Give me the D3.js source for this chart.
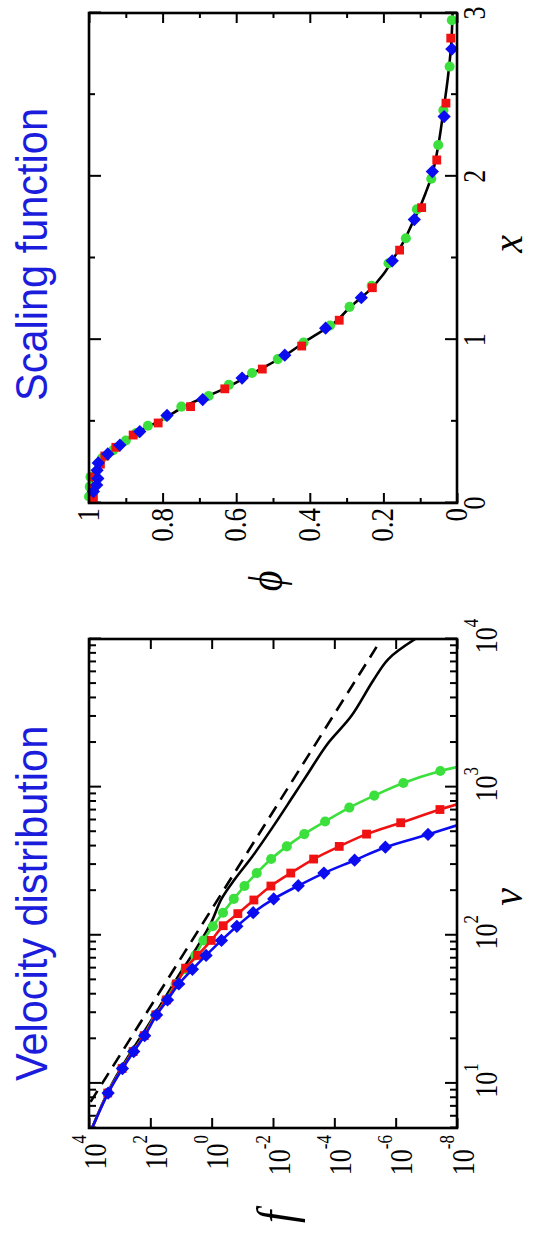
<!DOCTYPE html>
<html><head><meta charset="utf-8">
<script src="https://cdn.jsdelivr.net/npm/d3@7"></script>
<style>body{margin:0;background:#fff}svg{display:block}</style>
</head><body>
<svg id="chart" width="534" height="1245"></svg>
<script>
// ---------- data : velocity distribution (log-log) ----------
const velDomain = [5, 1e4];
const fDomain = [1e4, 1e-8];
const velMajorTicks = [10, 100, 1000, 10000];
const velTickExp = ["1", "2", "3", "4"];
const fTicks = [1e4, 1e2, 1e0, 1e-2, 1e-4, 1e-6, 1e-8];
const fTickExp = ["4", "2", "0", "-2", "-4", "-6", "-8"];

// first and last entries are line ends only (no marker)
const blueV = [5, 8.61, 12.6, 16.4, 21.0, 29.0, 36.6, 46.9, 58.9, 73.1, 92.3, 115, 142, 176, 216, 263, 321, 393, 479, 552];
const blueF = [7900, 2380, 811, 348, 153, 62.5, 27.5, 11.8, 4.24, 1.52, 0.48, 0.151, 0.0443, 0.0095, 1.5e-3, 2.19e-4, 2.18e-5, 2.17e-6, 8.8e-8, 1e-8];
const redV = [5, 8.61, 12.6, 16.4, 21.0, 29.0, 36.6, 46.9, 60.0, 73.1, 92.3, 116, 140, 173, 215, 263, 327, 398, 482, 575, 706, 766];
const redF = [7900, 2450, 832, 363, 158, 66, 29.5, 14.1, 7.08, 2.88, 1.03, 0.422, 0.140, 0.042, 0.0117, 2.64e-3, 4.73e-4, 6.92e-5, 8.9e-6, 6.85e-7, 3.6e-8, 1e-8];
const greenV = [5, 8.61, 12.6, 16.4, 21.0, 29.0, 36.6, 46.9, 58.9, 73.1, 92.3, 115, 142, 176, 215, 263, 327, 398, 482, 586, 728, 877, 1067, 1285, 1365];
const greenF = [8000, 2480, 850, 370, 163, 68, 31, 15, 7.1, 3.4, 1.86, 0.912, 0.427, 0.19, 0.0851, 0.0339, 0.0115, 3.55e-3, 9.55e-4, 2.0e-4, 3.24e-5, 5.0e-6, 5.6e-7, 3.5e-8, 1e-8];
const blackV = [5, 10, 27.7, 51.4, 84.1, 122, 176, 240, 339, 537, 871, 1202, 1950, 3020, 5250, 7350, 10000];
const blackF = [7900, 1740, 83, 13.5, 2.88, 1.035, 0.479, 0.174, 0.0479, 0.0102, 2.19e-3, 7.9e-4, 1.7e-4, 2.8e-5, 5.4e-6, 1.7e-6, 2.3e-7];
const dashV = [7.5, 8840];
const dashF = [8900, 4.2e-6];

// ---------- data : scaling function ----------
const xDomain = [0, 3];
const phiDomain = [1, 0];
const xMajorTicks = [0, 1, 2, 3];
const xMinorTicks = [0.5, 1.5, 2.5];
const phiMajorTicks = [0, 0.2, 0.4, 0.6, 0.8, 1];
const phiTickLabels = ["0", "0.2", "0.4", "0.6", "0.8", "1"];
const phiMinorTicks = [0.1, 0.3, 0.5, 0.7, 0.9];

const scalingX = [0, 0.1, 0.2, 0.25, 0.3, 0.35, 0.4, 0.45, 0.5, 0.6, 0.7, 0.8, 0.9, 1.0, 1.1, 1.2, 1.3, 1.4, 1.5, 1.6, 1.7, 1.8, 1.9, 2.0, 2.2, 2.4, 2.6, 2.8, 3.0];
const scalingPhi = [1, 0.995, 0.985, 0.975, 0.952, 0.925, 0.89, 0.855, 0.81, 0.733, 0.632, 0.55, 0.47, 0.405, 0.335, 0.29, 0.239, 0.2, 0.172, 0.145, 0.124, 0.103, 0.085, 0.069, 0.05, 0.037, 0.025, 0.016, 0.012];
const sBlueX = [0.07, 0.11, 0.15, 0.20, 0.245, 0.30, 0.355, 0.437, 0.536, 0.633, 0.765, 0.905, 1.070, 1.257, 1.483, 1.735, 2.029, 2.366, 2.779];
const sBluePhi = [0.988, 0.979, 0.976, 0.978, 0.975, 0.949, 0.916, 0.862, 0.788, 0.691, 0.584, 0.468, 0.357, 0.260, 0.176, 0.116, 0.067, 0.035, 0.014];
const sRedX = [0.029, 0.09, 0.16, 0.238, 0.288, 0.341, 0.416, 0.49, 0.59, 0.699, 0.82, 0.961, 1.119, 1.318, 1.548, 1.808, 2.10, 2.448, 2.846];
const sRedPhi = [0.988, 0.99, 0.985, 0.969, 0.957, 0.927, 0.880, 0.812, 0.724, 0.631, 0.529, 0.422, 0.320, 0.230, 0.156, 0.096, 0.055, 0.030, 0.017];
const sGreenX = [0.04, 0.10, 0.16, 0.274, 0.324, 0.383, 0.428, 0.473, 0.53, 0.59, 0.655, 0.723, 0.796, 0.881, 0.983, 1.087, 1.201, 1.33, 1.468, 1.621, 1.798, 1.985, 2.192, 2.405, 2.672, 2.956];
const sGreenPhi = [1.0, 0.998, 0.996, 0.965, 0.934, 0.900, 0.872, 0.840, 0.790, 0.749, 0.675, 0.620, 0.557, 0.487, 0.417, 0.345, 0.292, 0.232, 0.186, 0.139, 0.109, 0.070, 0.051, 0.037, 0.020, 0.014];

// ---------- styles ----------
const BLUE = "#0c0cf0", RED = "#f01212", GREEN = "#3ce03c", TITLE = "#1c1cdc";
const SERIF = "'Liberation Serif','Times New Roman',serif";
const SANS = "'Liberation Sans',Arial,sans-serif";
const S = 1.2; // vertical stretch of glyphs

const H = 1245;
const svg = d3.select("#chart");
// whole figure is drawn upright, then rotated a quarter turn counter-clockwise
const root = svg.append("g").attr("transform", `translate(0,${H}) rotate(-90)`);

const P1 = {x0: 117, x1: 606, y0: 89, y1: 457};
const P2 = {x0: 742, x1: 1232, y0: 89, y1: 457};

const vx = d3.scaleLog().domain(velDomain).range([P1.x0, P1.x1]);
const fy = d3.scaleLog().domain(fDomain).range([P1.y0, P1.y1]);
const sx = d3.scaleLinear().domain(xDomain).range([P2.x0, P2.x1]);
const sy = d3.scaleLinear().domain(phiDomain).range([P2.y0, P2.y1]);

function tickAxis(axis, tr) {
  const g = root.append("g").attr("transform", tr).call(axis.tickFormat(() => ""));
  g.select(".domain").remove();
  g.selectAll("line").attr("stroke", "#000").attr("stroke-width", 2);
}

// ---- panel 1 ticks ----
const velMinor = vx.ticks().filter(t => !velMajorTicks.includes(t) && t >= velDomain[0] && t <= velDomain[1]);
tickAxis(d3.axisBottom(vx).tickValues(velMajorTicks).tickSize(-12), `translate(0,${P1.y1})`);
tickAxis(d3.axisBottom(vx).tickValues(velMinor).tickSize(-7), `translate(0,${P1.y1})`);
tickAxis(d3.axisTop(vx).tickValues(velMajorTicks).tickSize(-12), `translate(0,${P1.y0})`);
tickAxis(d3.axisTop(vx).tickValues(velMinor).tickSize(-7), `translate(0,${P1.y0})`);
tickAxis(d3.axisLeft(fy).tickValues(fTicks).tickSize(-10), `translate(${P1.x0},0)`);
tickAxis(d3.axisRight(fy).tickValues(fTicks).tickSize(-10), `translate(${P1.x1},0)`);

// ---- panel 2 ticks ----
tickAxis(d3.axisBottom(sx).tickValues(xMajorTicks).tickSize(-12), `translate(0,${P2.y1})`);
tickAxis(d3.axisBottom(sx).tickValues(xMinorTicks).tickSize(-6), `translate(0,${P2.y1})`);
tickAxis(d3.axisTop(sx).tickValues(xMajorTicks).tickSize(-12), `translate(0,${P2.y0})`);
tickAxis(d3.axisTop(sx).tickValues(xMinorTicks).tickSize(-6), `translate(0,${P2.y0})`);
tickAxis(d3.axisLeft(sy).tickValues(phiMajorTicks).tickSize(-10), `translate(${P2.x0},0)`);
tickAxis(d3.axisLeft(sy).tickValues(phiMinorTicks).tickSize(-5), `translate(${P2.x0},0)`);
tickAxis(d3.axisRight(sy).tickValues(phiMajorTicks).tickSize(-10), `translate(${P2.x1},0)`);
tickAxis(d3.axisRight(sy).tickValues(phiMinorTicks).tickSize(-5), `translate(${P2.x1},0)`);

// ---- clip ----
const defs = svg.append("defs");
defs.append("clipPath").attr("id", "clip1").append("rect")
  .attr("x", P1.x0).attr("y", P1.y0).attr("width", P1.x1 - P1.x0).attr("height", P1.y1 - P1.y0);
defs.append("clipPath").attr("id", "clip2").append("rect")
  .attr("x", P2.x0 - 6).attr("y", P2.y0 - 6).attr("width", P2.x1 - P2.x0 + 12).attr("height", P2.y1 - P2.y0 + 12);

// ---- panel 1 curves ----
const g1 = root.append("g").attr("clip-path", "url(#clip1)");
const line1 = d3.line().x(d => vx(d[0])).y(d => fy(d[1])).curve(d3.curveCatmullRom);
const zip = (a, b) => a.map((v, i) => [v, b[i]]);

g1.append("path").datum(zip(dashV, dashF)).attr("d", line1)
  .attr("fill", "none").attr("stroke", "#000").attr("stroke-width", 2.6).attr("stroke-dasharray", "13,8");
g1.append("path").datum(zip(blackV, blackF)).attr("d", line1)
  .attr("fill", "none").attr("stroke", "#000").attr("stroke-width", 2.6);

const sym = {
  circle: d3.symbol().type(d3.symbolCircle).size(80),
  square: d3.symbol().type(d3.symbolSquare).size(78),
  diamond: d3.symbol().type(d3.symbolSquare).size(88)
};

function seriesLine(g, pts, color, line) {
  g.append("path").datum(pts).attr("d", line)
    .attr("fill", "none").attr("stroke", color).attr("stroke-width", 2.6);
}
function markers(g, pts, color, shape, xs, ys) {
  g.append("g").selectAll("path").data(pts).join("path")
    .attr("d", sym[shape]())
    .attr("transform", d => `translate(${xs(d[0])},${ys(d[1])})` + (shape === "diamond" ? " rotate(45)" : ""))
    .attr("fill", color);
}

const greenPts = zip(greenV, greenF), redPts = zip(redV, redF), bluePts = zip(blueV, blueF);
seriesLine(g1, greenPts, GREEN, line1);
markers(g1, greenPts.slice(1, -1), GREEN, "circle", vx, fy);
seriesLine(g1, redPts, RED, line1);
markers(g1, redPts.slice(1, -1), RED, "square", vx, fy);
seriesLine(g1, bluePts, BLUE, line1);
markers(g1, bluePts.slice(1, -1), BLUE, "diamond", vx, fy);

// ---- panel 2 curve + markers ----
const g2 = root.append("g").attr("clip-path", "url(#clip2)");
const line2 = d3.line().x(d => sx(d[0])).y(d => sy(d[1])).curve(d3.curveMonotoneX);
g2.append("path").datum(zip(scalingX, scalingPhi)).attr("d", line2)
  .attr("fill", "none").attr("stroke", "#000").attr("stroke-width", 2.6);
markers(g2, zip(sGreenX, sGreenPhi), GREEN, "circle", sx, sy);
markers(g2, zip(sRedX, sRedPhi), RED, "square", sx, sy);
markers(g2, zip(sBlueX, sBluePhi), BLUE, "diamond", sx, sy);

// ---- frames ----
[P1, P2].forEach(P => root.append("rect")
  .attr("x", P.x0).attr("y", P.y0).attr("width", P.x1 - P.x0).attr("height", P.y1 - P.y0)
  .attr("fill", "none").attr("stroke", "#000").attr("stroke-width", 2.6));

// ---- tick labels ----
function powLabel(x, y, exp, anchor, supDy) {
  const t = root.append("text").attr("transform", `translate(${x},${y}) scale(1,${S})`)
    .attr("text-anchor", anchor).attr("font-family", SERIF).attr("font-size", 26).attr("fill", "#000");
  t.append("tspan").text("10");
  t.append("tspan").attr("font-size", 17).attr("dy", supDy).text(exp);
}
fTicks.forEach((t, i) => powLabel(P1.x0 - 7, fy(t) + 16.5, fTickExp[i], "end", -16.5));
velMajorTicks.forEach((t, i) => powLabel(vx(t) + 3, 497, velTickExp[i], "middle", -16));

function plainLabel(x, y, txt, anchor, fs) {
  root.append("text").attr("transform", `translate(${x},${y}) scale(1,${S})`)
    .attr("text-anchor", anchor).attr("font-family", SERIF).attr("font-size", fs).attr("fill", "#000").text(txt);
}
xMajorTicks.forEach(t => plainLabel(sx(t), 485, String(t), "middle", 26));
phiMajorTicks.forEach((t, i) => plainLabel(P2.x0 - 5, sy(t) + 10, phiTickLabels[i], "end", 27));

// ---- axis titles ----
function italic(x, y, txt, fs, st) {
  root.append("text").attr("transform", `translate(${x},${y}) scale(1,${st})`)
    .attr("text-anchor", "middle").attr("font-family", SERIF).attr("font-style", "italic")
    .attr("font-size", fs).attr("fill", "#000").text(txt);
}
italic(28, 294, "f", 44, S);
italic(348, 522, "v", 40, 1.1);
italic(664, 282, "\u03D5", 40, S);
italic(1001, 522, "x", 40, 1.1);

// ---- panel titles ----
function title(x, txt) {
  root.append("text").attr("transform", `translate(${x},47) scale(1,1.08)`)
    .attr("font-family", SANS).attr("font-size", 41.5).attr("fill", TITLE).text(txt);
}
title(164, "Velocity distribution");
title(844, "Scaling function");
</script>
</body></html>
